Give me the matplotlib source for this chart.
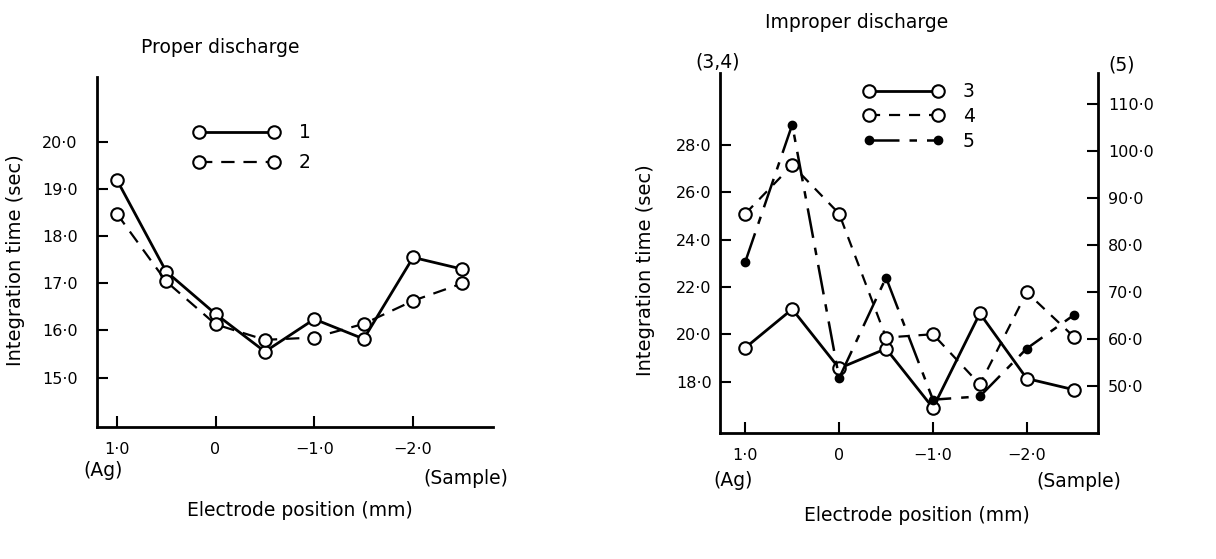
import matplotlib
matplotlib.use('Agg')
import matplotlib.pyplot as plt

# electrode positions (mm), shared by every curve
positions = [1.0, 0.5, 0.0, -0.5, -1.0, -1.5, -2.0, -2.5]

# proper discharge
curve_1 = [19.2, 17.25, 16.35, 15.55, 16.24, 15.82, 17.55, 17.3]
curve_2 = [18.48, 17.04, 16.13, 15.8, 15.85, 16.14, 16.63, 17.0]

# improper discharge (3, 4 on left axis, 5 on right axis)
curve_3 = [19.44, 21.07, 18.57, 19.4, 16.9, 20.89, 18.14, 17.67]
curve_4 = [25.1, 27.15, 25.1, 19.87, 20.01, 17.89, 21.78, 19.91]
curve_5 = [76.4, 105.6, 51.6, 73.0, 47.0, 47.7, 57.9, 65.0]

x_ticks = [1.0, 0.0, -1.0, -2.0]
x_ticklabels = ['1·0', '0', '−1·0', '−2·0']
left_yticks = [15, 16, 17, 18, 19, 20]
left_yticklabels = ['15·0', '16·0', '17·0', '18·0', '19·0', '20·0']
right_yticks = [18, 20, 22, 24, 26, 28]
right_yticklabels = ['18·0', '20·0', '22·0', '24·0', '26·0', '28·0']
twin_yticks = [50, 60, 70, 80, 90, 100, 110]
twin_yticklabels = ['50·0', '60·0', '70·0', '80·0', '90·0', '100·0', '110·0']

plt.rcParams['font.family'] = ['DejaVu Sans']
TICK_FS = 11.5
LABEL_FS = 13.5

fig = plt.figure(figsize=(12.16, 5.59), dpi=100)
ax1 = fig.add_axes([0.0798, 0.2361, 0.3257, 0.6262])
ax2 = fig.add_axes([0.5921, 0.2254, 0.3109, 0.6440])
ax3 = ax2.twinx()

open_mk = dict(marker='o', markersize=9, markerfacecolor='white',
               markeredgecolor='black', markeredgewidth=1.5, color='black')
fill_mk = dict(marker='o', markersize=6, markerfacecolor='black',
               markeredgecolor='black', color='black')


def style_axis(ax, xlim, ylim, yticks, yticklabels, ypad):
    ax.set_xlim(*xlim)
    ax.set_ylim(*ylim)
    ax.set_xticks(x_ticks)
    ax.set_xticklabels(x_ticklabels, fontsize=TICK_FS)
    ax.set_yticks(yticks)
    ax.set_yticklabels(yticklabels, fontsize=TICK_FS)
    ax.tick_params(axis='x', direction='in', length=8, width=1.5, pad=11)
    ax.tick_params(axis='y', direction='in', length=8, width=1.5, pad=ypad)
    for s in ['left', 'bottom']:
        ax.spines[s].set_linewidth(2)
    ax.spines['top'].set_visible(False)


# ---- left panel: proper discharge
l1, = ax1.plot(positions, curve_1, linestyle='-', linewidth=2, **open_mk)
l2, = ax1.plot(positions, curve_2, linestyle=(0, (6, 4)), linewidth=1.6, **open_mk)
style_axis(ax1, (1.2, -2.81), (13.95, 21.38), left_yticks, left_yticklabels, 14)
ax1.spines['right'].set_visible(False)

ax1.text(0.31, 1.083, 'Proper discharge', transform=ax1.transAxes,
         ha='center', va='center', fontsize=LABEL_FS)
ax1.set_xlabel('Electrode position (mm)', fontsize=LABEL_FS)
ax1.xaxis.set_label_coords(0.513, -0.211)
ax1.set_ylabel('Integration time (sec)', fontsize=LABEL_FS + 0.5)
ax1.yaxis.set_label_coords(-0.182, 0.477)
ax1.text(1.14, -0.123, '(Ag)', transform=ax1.get_xaxis_transform(),
         ha='center', va='center', fontsize=LABEL_FS)
ax1.text(-2.53, -0.146, '(Sample)', transform=ax1.get_xaxis_transform(),
         ha='center', va='center', fontsize=LABEL_FS)
ax1.legend([l1, l2], ['1', '2'], numpoints=2, handlelength=4.6,
           handletextpad=1.0, labelspacing=0.6, frameon=False,
           fontsize=LABEL_FS, loc='upper left', bbox_to_anchor=(0.22, 0.895),
           borderpad=0)

# ---- right panel: improper discharge
l3, = ax2.plot(positions, curve_3, linestyle='-', linewidth=2, **open_mk)
l4, = ax2.plot(positions, curve_4, linestyle=(0, (5, 4)), linewidth=1.6, **open_mk)
l5, = ax3.plot(positions, curve_5, linestyle=(0, (12, 4, 3, 4)), linewidth=1.8, **fill_mk)
style_axis(ax2, (1.27, -2.76), (15.84, 31.04), right_yticks, right_yticklabels, 6)
ax2.spines['right'].set_visible(False)

ax3.set_ylim(39.9, 116.6)
ax3.set_yticks(twin_yticks)
ax3.set_yticklabels(twin_yticklabels, fontsize=TICK_FS)
ax3.tick_params(axis='y', direction='in', length=8, width=1.5, pad=7)
ax3.spines['right'].set_linewidth(2)
for s in ['top', 'left', 'bottom']:
    ax3.spines[s].set_visible(False)

ax2.text(0.362, 1.139, 'Improper discharge', transform=ax2.transAxes,
         ha='center', va='center', fontsize=LABEL_FS)
ax2.set_xlabel('Electrode position (mm)', fontsize=LABEL_FS)
ax2.xaxis.set_label_coords(0.521, -0.203)
ax2.set_ylabel('Integration time (sec)', fontsize=LABEL_FS + 0.5)
ax2.yaxis.set_label_coords(-0.172, 0.453)
ax2.text(-0.005, 1.031, '(3,4)', transform=ax2.transAxes,
         ha='center', va='center', fontsize=LABEL_FS)
ax2.text(1.063, 1.022, '(5)', transform=ax2.transAxes,
         ha='center', va='center', fontsize=LABEL_FS)
ax2.text(1.13, -0.131, '(Ag)', transform=ax2.get_xaxis_transform(),
         ha='center', va='center', fontsize=LABEL_FS)
ax2.text(-2.56, -0.136, '(Sample)', transform=ax2.get_xaxis_transform(),
         ha='center', va='center', fontsize=LABEL_FS)
ax3.legend([l3, l4, l5], ['3', '4', '5'], numpoints=2, handlelength=4.3,
           handletextpad=1.0, labelspacing=0.3, frameon=False,
           fontsize=LABEL_FS, loc='upper left', bbox_to_anchor=(0.354, 1.0),
           borderpad=0)

fig.savefig('out.png', dpi=100)
